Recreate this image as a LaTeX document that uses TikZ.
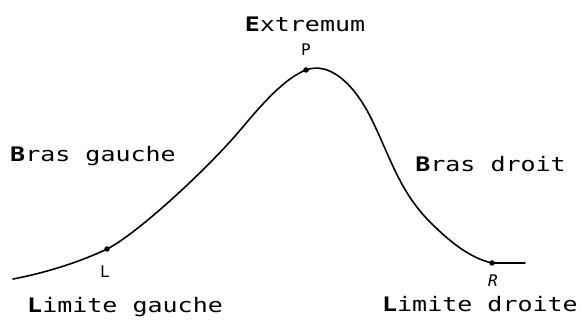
\documentclass[tikz,border=0pt]{standalone}
\usepackage{fontspec}
\newfontfamily\plotfont[FakeStretch=1.25]{DejaVu Sans Mono}
\newfontfamily\ptfont{DejaVu Sans Mono}
\begin{document}
\begin{tikzpicture}[x=1pt,y=-1pt,
  lab/.style={font=\plotfont\fontsize{20}{24}\selectfont,inner sep=0pt},
  ptlab/.style={font=\ptfont\fontsize{16}{18}\selectfont,inner sep=0pt},
  pt/.style={circle,fill=black,inner sep=0pt,minimum size=5.5pt},
  curve/.style={line width=1.6pt,line cap=round}]
\useasboundingbox (0,0) rectangle (582,320);
% points
\coordinate (S) at (13,279);
\node[pt] (L) at (107,249) {};
\coordinate (M) at (242,128);
\node[pt] (P) at (306,70) {};
\coordinate (Q) at (372,120);
\coordinate (T) at (430,222);
\node[pt] (R) at (492,263) {};
\coordinate (E) at (525,263);
% curve
\draw[curve] (S) .. controls (45,273) and (80,262) .. (L.center)
  .. controls (134,236) and (205,172) .. (M)
  .. controls (262,104) and (285,78) .. (P.center)
  .. controls (330,61) and (355,85) .. (Q)
  .. controls (390,157) and (400,192) .. (T)
  .. controls (450,242) and (470,258) .. (R.center)
  -- (E);
% labels
\node[lab,anchor=base] (ext) at (305,32) {\textbf{E}xtremum};
\node[ptlab] (pl) at (306,50) {P};
\node[lab,anchor=base west] (bg) at (10,162) {\textbf{B}ras gauche};
\node[lab,anchor=base east] (bd) at (566,172) {\textbf{B}ras droit};
\node[ptlab] (ll) at (105,272) {L};
\node[ptlab,font=\ptfont\itshape\fontsize{16}{18}\selectfont] (rl) at (493,281) {R};
\node[lab,anchor=base west] (lg) at (27,313) {\textbf{L}imite gauche};
\node[lab,anchor=base east] (ld) at (578,312) {\textbf{L}imite droite};
\end{tikzpicture}
\end{document}
